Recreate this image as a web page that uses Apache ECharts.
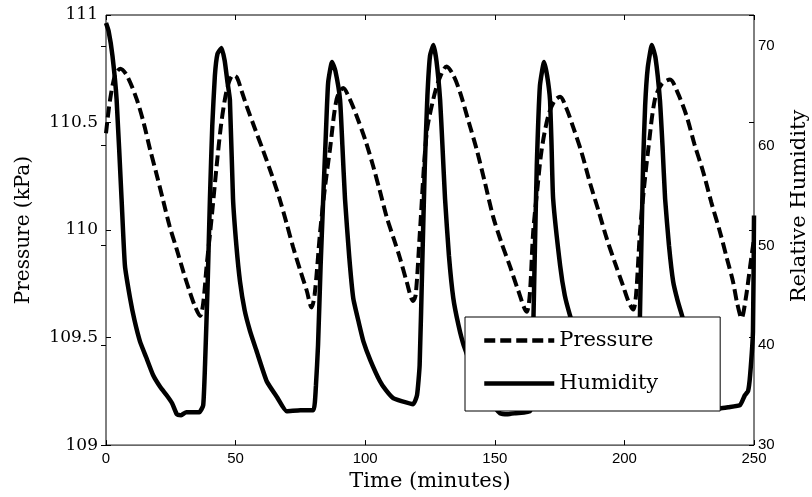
<!DOCTYPE html>
<html>
<head>
<meta charset="utf-8">
<script src="https://cdn.jsdelivr.net/npm/echarts@6/dist/echarts.min.js"></script>
<style>
  html, body { margin: 0; padding: 0; background: #fff; }
  #chart { width: 812px; height: 497px; }
</style>
</head>
<body>
<div id="chart"></div>
<script>
// humidity (right axis), time in minutes
var humTime = [0, 1, 2.5, 4.1, 6, 7.3, 9.3, 11, 13.1, 15.5, 18.2, 21, 23.4, 25.5, 27.3, 29, 31, 36,
  37.5, 38.2, 39.2, 40.1, 41, 42, 43, 44.6, 45.8, 46.8, 47.8, 49, 50.3, 51.7, 53.5, 55.6, 58, 62, 66, 69.7, 75, 80,
  81, 81.8, 82.8, 83.8, 84.8, 85.7, 87.2, 88.5, 90.3, 91.2, 92.2, 93.8, 95.4, 97.5, 99.3, 102, 105.7, 108, 110.8, 114, 118.5,
  120, 121, 122, 123, 124, 125, 126.3, 127.5, 128.9, 129.8, 130.8, 132.3, 134, 136, 138, 141, 144, 147, 150, 152, 155, 158, 163.6,
  164.3, 164.8, 165.5, 166.2, 167.4, 169, 170.2, 171.3, 171.9, 172.5, 175.2, 177, 179, 182, 185, 189, 193, 197, 202, 205.5,
  206, 207.2, 208, 209, 210.6, 212, 213.7, 214.7, 215.7, 217.2, 218.8, 220.5, 222.2, 225, 228, 231, 234, 236.9, 240, 244.6,
  246.5, 247.7, 248.5, 249.6, 250];
var humValues = [72.3, 71.5, 69, 64.6, 54.7, 48, 44.7, 42.5, 40.4, 38.8, 37, 35.8, 35, 34.2, 33.1, 33.0, 33.3, 33.3,
  34, 38, 46, 54.7, 62, 67, 69.2, 69.8, 68.5, 66.5, 64.6, 54.7, 50, 46.4, 43.5, 41.4, 39.5, 36.4, 34.8, 33.4, 33.5, 33.5,
  36, 40, 48, 54.7, 61, 66.3, 68.4, 67.5, 64.6, 60, 54.7, 49, 44.7, 42.3, 40.4, 38.5, 36.4, 35.5, 34.7, 34.4, 34.1,
  35, 38, 48, 58, 65, 69, 70.1, 68.5, 64.6, 60, 54.7, 49, 44.7, 42, 40, 38, 36.5, 35, 33.8, 33.2, 33.1, 33.2, 33.4,
  37, 41.4, 50, 58, 66, 68.4, 67, 64.6, 60, 54.7, 48, 45, 43, 40.5, 38.5, 36.5, 35, 34.2, 33.8, 34,
  43, 58, 64, 67.8, 70.1, 68.8, 64.6, 60, 54.7, 50, 46.4, 44.5, 43, 40.5, 38.5, 36.5, 34.8, 33.7, 33.8, 34,
  35, 35.4, 37, 41.4, 53];

// pressure (left axis, kPa)
var presTime = [0, 1.5, 3.5, 5.5, 8, 11.8, 14.5, 17, 19.5, 22, 24.5, 27.3, 30, 32.4, 34.5, 36.3,
  37.5, 38.8, 40.7, 42.7, 44.3, 45.9, 47.5, 49, 50.5, 52.5, 54.3, 57.5, 60.6, 64, 67.1, 69.7, 72.2, 75, 77.4, 79.3,
  80.5, 82.6, 84.5, 86.4, 89, 91.5, 94, 96.7, 100, 103, 105.7, 108.3, 111, 113.4, 116, 118.5,
  119.5, 121.1, 123.7, 126.3, 128.5, 131.4, 134, 136.6, 140, 143, 146.2, 149.4, 152.6, 155.9, 159, 162.3,
  163.5, 164.8, 166.5, 168.1, 170.6, 173, 175.2, 177.5, 180.2, 183.5, 186.7, 190, 193.2, 196.3, 199.5, 201.5, 203.4,
  204.5, 206, 207.6, 209.2, 211.8, 214.5, 217.6, 220.5, 224, 227, 230.4, 233.5, 236.9, 239.5, 241.9, 243.5, 245.2,
  246.8, 248.5, 250];
var presValues = [110.45, 110.6, 110.72, 110.75, 110.72, 110.61, 110.5, 110.375, 110.26, 110.14, 110.02, 109.91, 109.8, 109.71, 109.64, 109.6,
  109.66, 109.83, 110.05, 110.3, 110.48, 110.61, 110.69, 110.72, 110.71, 110.64, 110.575, 110.47, 110.37, 110.255, 110.14, 110.03, 109.92, 109.81, 109.72, 109.64,
  109.7, 109.99, 110.2, 110.375, 110.61, 110.66, 110.61, 110.53, 110.42, 110.3, 110.18, 110.06, 109.96, 109.87, 109.76, 109.67,
  109.7, 109.99, 110.45, 110.61, 110.7, 110.76, 110.72, 110.64, 110.5, 110.375, 110.22, 110.06, 109.94, 109.83, 109.72, 109.62,
  109.7, 109.99, 110.2, 110.375, 110.53, 110.6, 110.62, 110.57, 110.48, 110.36, 110.22, 110.09, 109.96, 109.85, 109.74, 109.67, 109.63,
  109.7, 109.99, 110.2, 110.375, 110.61, 110.68, 110.70, 110.64, 110.53, 110.4, 110.27, 110.13, 109.99, 109.87, 109.76, 109.66, 109.59,
  109.68, 109.83, 109.96];

function zip(xs, ys) {
  return xs.map(function (x, i) { return [x, ys[i]]; });
}

var serif = "DejaVu Serif";
var sans = "Liberation Sans";

var option = {
  animation: false,
  backgroundColor: "#fff",
  grid: {
    left: 106,
    right: 58,
    top: 15,
    bottom: 50,
    show: true,
    borderColor: "#000",
    borderWidth: 1,
  },
  legend: {
    orient: "vertical",
    left: 465,
    top: 317,
    backgroundColor: "#fff",
    borderColor: "#000",
    borderWidth: 1,
    borderRadius: 0,
    padding: [13, 62, 17, 17],
    itemWidth: 70,
    itemHeight: 14,
    itemGap: 22,
    itemStyle: { opacity: 0 },
    lineStyle: { width: 4.5 },
    textStyle: { fontFamily: serif, fontSize: 21, color: "#000" },
    data: ["Pressure", "Humidity"],
  },
  xAxis: [
    {
      type: "value",
      min: 0,
      max: 250,
      interval: 50,
      name: "Time (minutes)",
      nameLocation: "middle",
      nameGap: 23,
      nameTextStyle: { fontFamily: serif, fontSize: 21, color: "#000" },
      axisLine: { show: false },
      axisTick: { inside: true, length: 5, lineStyle: { color: "#000" } },
      axisLabel: { margin: 6, fontFamily: sans, fontSize: 15, color: "#000" },
      splitLine: { show: false },
    },
    {
      // ticks along the top of the box
      type: "value",
      position: "top",
      min: 0,
      max: 250,
      interval: 50,
      axisLine: { show: false },
      axisTick: { inside: true, length: 5, lineStyle: { color: "#000" } },
      axisLabel: { show: false },
      splitLine: { show: false },
    },
  ],
  yAxis: [
    {
      type: "value",
      position: "left",
      min: 109,
      max: 111,
      interval: 0.5,
      name: "Pressure (kPa)",
      nameLocation: "middle",
      nameGap: 72,
      nameTextStyle: { fontFamily: serif, fontSize: 20, color: "#000" },
      axisLine: { show: false },
      axisTick: { inside: true, length: 5, lineStyle: { color: "#000" } },
      axisLabel: { margin: 8, fontFamily: serif, fontSize: 17, color: "#000" },
      splitLine: { show: false },
    },
    {
      type: "value",
      position: "right",
      min: 30,
      max: 73.1,
      interval: 10,
      axisLine: { show: false },
      axisTick: { inside: true, length: 5, lineStyle: { color: "#000" } },
      axisLabel: {
        margin: 4,
        fontFamily: sans,
        fontSize: 15,
        color: "#000",
        showMaxLabel: false,
        formatter: function (v) {
          return v % 10 === 0 ? String(v) : "";
        },
      },
      splitLine: { show: false },
    },
    {
      // left-axis ticks repeated on the right side of the box
      type: "value",
      position: "right",
      min: 109,
      max: 111,
      interval: 0.5,
      axisLine: { show: false },
      axisTick: { inside: true, length: 5, lineStyle: { color: "#000" } },
      axisLabel: { show: false },
      splitLine: { show: false },
    },
  ],
  graphic: [
    {
      type: "text",
      x: 800,
      y: 206,
      rotation: Math.PI / 2,
      style: {
        text: "Relative Humidity",
        fontFamily: serif,
        fontSize: 21,
        fill: "#000",
        align: "center",
        verticalAlign: "middle",
      },
    },
  ],
  series: [
    {
      name: "Pressure",
      type: "line",
      xAxisIndex: 0,
      yAxisIndex: 0,
      data: zip(presTime, presValues),
      symbol: "none",
      smooth: 0.3,
      color: "#000",
      lineStyle: { color: "#000", width: 4, type: [11, 5] },
    },
    {
      name: "Humidity",
      type: "line",
      xAxisIndex: 0,
      yAxisIndex: 1,
      data: zip(humTime, humValues),
      symbol: "none",
      smooth: 0.15,
      color: "#000",
      lineStyle: { color: "#000", width: 4.5, type: "solid" },
    },
  ],
};

var myChart = echarts.init(document.getElementById("chart"));
myChart.setOption(option, true);
</script>
</body>
</html>
